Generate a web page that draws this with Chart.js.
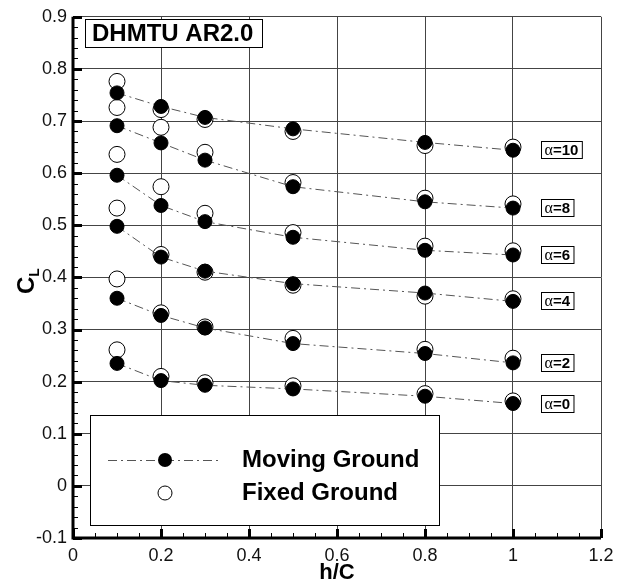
<!DOCTYPE html>
<html>
<head>
<meta charset="utf-8">
<script src="https://cdn.jsdelivr.net/npm/chart.js@4/dist/chart.umd.min.js"></script>
<style>
  body { margin: 0; background: #fff; }
  #wrap { width: 625px; height: 585px; position: relative; }
</style>
</head>
<body>
<div id="wrap"><canvas id="clChart"></canvas></div>
<script>
// h/C positions
const hC = [0.1, 0.2, 0.3, 0.5, 0.8, 1.0];

// moving ground CL, one array per angle of attack
const moving0  = [0.235, 0.202, 0.193, 0.186, 0.172, 0.158];
const moving2  = [0.360, 0.327, 0.303, 0.273, 0.254, 0.236];
const moving4  = [0.498, 0.439, 0.412, 0.388, 0.370, 0.354];
const moving6  = [0.596, 0.538, 0.507, 0.477, 0.452, 0.443];
const moving8  = [0.691, 0.658, 0.625, 0.574, 0.545, 0.533];
const moving10 = [0.754, 0.728, 0.707, 0.685, 0.659, 0.644];

// fixed ground CL
const fixed0  = [0.261, 0.210, 0.198, 0.192, 0.177, 0.163];
const fixed2  = [0.397, 0.332, 0.305, 0.283, 0.262, 0.245];
const fixed4  = [0.533, 0.444, 0.410, 0.385, 0.364, 0.359];
const fixed6  = [0.636, 0.574, 0.523, 0.486, 0.460, 0.451];
const fixed8  = [0.726, 0.688, 0.640, 0.582, 0.552, 0.541];
const fixed10 = [0.776, 0.722, 0.703, 0.680, 0.653, 0.650];

const alphaLabels = ['0', '2', '4', '6', '8', '10'];
const movingSets = [moving0, moving2, moving4, moving6, moving8, moving10];
const fixedSets = [fixed0, fixed2, fixed4, fixed6, fixed8, fixed10];

const FONT = '"Liberation Sans", Arial, sans-serif';
const DASH = [9, 4, 2, 4];

function toPoints(vals) {
    return vals.map((v, i) => ({ x: hC[i], y: v }));
}

const datasets = [];
// moving first so the filled dots sit on top of the open ones
movingSets.forEach((vals, i) => {
    datasets.push({
        label: 'Moving Ground a=' + alphaLabels[i],
        data: toPoints(vals),
        showLine: true,
        borderColor: '#555',
        borderWidth: 1,
        borderDash: DASH,
        pointBackgroundColor: '#000',
        pointBorderColor: '#000',
        pointBorderWidth: 1,
        pointRadius: 7
    });
});
fixedSets.forEach((vals, i) => {
    datasets.push({
        label: 'Fixed Ground a=' + alphaLabels[i],
        data: toPoints(vals),
        showLine: false,
        pointBackgroundColor: '#fff',
        pointBorderColor: '#000',
        pointBorderWidth: 1,
        pointRadius: 8
    });
});

function fmt(v) {
    const r = Math.round(v * 10) / 10;
    return r === 0 ? '0' : String(r);
}

// axes, inward ticks, title box, alpha tags, legend, axis titles
const decorPlugin = {
    id: 'decor',
    afterDraw(chart) {
        const c = chart.ctx;
        const a = chart.chartArea;
        const xs = chart.scales.x, ys = chart.scales.y;
        c.save();

        // thick left + bottom axes
        c.strokeStyle = '#000';
        c.lineWidth = 3;
        c.beginPath();
        c.moveTo(a.left, a.top);
        c.lineTo(a.left, a.bottom);
        c.lineTo(a.right, a.bottom);
        c.stroke();

        // y ticks inward
        for (let k = 0; k <= 50; k++) {
            const v = -0.1 + k * 0.02;
            const py = Math.round(ys.getPixelForValue(v)) + 0.5;
            const major = k % 5 === 0;
            c.lineWidth = major ? 3 : 1;
            c.beginPath();
            c.moveTo(a.left, py);
            c.lineTo(a.left + (major ? 9 : 5), py);
            c.stroke();
        }
        // x ticks inward
        for (let k = 0; k <= 24; k++) {
            const v = k * 0.05;
            const px = Math.round(xs.getPixelForValue(v)) + 0.5;
            const major = k % 4 === 0;
            c.lineWidth = major ? 3 : 1;
            c.beginPath();
            c.moveTo(px, a.bottom);
            c.lineTo(px, a.bottom - (major ? 9 : 5));
            c.stroke();
        }

        // title box
        c.lineWidth = 1;
        c.fillStyle = '#fff';
        c.fillRect(85.5, 19.5, 177, 28);
        c.strokeRect(85.5, 19.5, 177, 28);
        c.fillStyle = '#000';
        c.font = 'bold 24px ' + FONT;
        c.textBaseline = 'middle';
        c.textAlign = 'left';
        c.fillText('DHMTU AR2.0', 92, 34);

        // alpha tags next to last point of each curve
        movingSets.forEach((vals, i) => {
            const py = Math.round(ys.getPixelForValue(vals[vals.length - 1]));
            const left = Math.round(xs.getPixelForValue(1.064)) + 0.5;
            c.font = '16px "Liberation Serif", serif';
            const wA = c.measureText('\u03b1').width;
            c.font = 'bold 15px ' + FONT;
            const wN = c.measureText('=' + alphaLabels[i]).width;
            const w = wA + wN + 7;
            c.fillStyle = '#fff';
            c.fillRect(left, py - 8.5, w, 17);
            c.strokeStyle = '#000';
            c.lineWidth = 1;
            c.strokeRect(left, py - 8.5, w, 17);
            c.fillStyle = '#000';
            c.textBaseline = 'middle';
            c.font = '16px "Liberation Serif", serif';
            c.fillText('\u03b1', left + 3, py + 1);
            c.font = 'bold 15px ' + FONT;
            c.fillText('=' + alphaLabels[i], left + 3 + wA, py + 1);
        });

        // legend
        c.fillStyle = '#fff';
        c.fillRect(90.5, 415.5, 349, 110);
        c.strokeStyle = '#000';
        c.lineWidth = 1;
        c.strokeRect(90.5, 415.5, 349, 110);
        c.strokeStyle = '#555';
        c.setLineDash(DASH);
        c.beginPath();
        c.moveTo(108, 460.5);
        c.lineTo(222, 460.5);
        c.stroke();
        c.setLineDash([]);
        c.fillStyle = '#000';
        c.beginPath();
        c.arc(165, 460, 7, 0, Math.PI * 2);
        c.fill();
        c.strokeStyle = '#000';
        c.fillStyle = '#fff';
        c.beginPath();
        c.arc(165, 493, 7, 0, Math.PI * 2);
        c.fill();
        c.stroke();
        c.fillStyle = '#000';
        c.font = 'bold 24px ' + FONT;
        c.textBaseline = 'middle';
        c.fillText('Moving Ground', 242, 460);
        c.fillText('Fixed Ground', 242, 493);

        // x title
        c.font = 'bold 22px ' + FONT;
        c.textAlign = 'center';
        c.fillText('h/C', 337, 573);

        // y title C_L rotated
        c.translate(27, 284);
        c.rotate(-Math.PI / 2);
        c.textAlign = 'left';
        c.font = 'bold 24px ' + FONT;
        c.fillText('C', -10, 0);
        const wC = c.measureText('C').width;
        c.font = 'bold 14px ' + FONT;
        c.fillText('L', -10 + wC, 8);

        c.restore();
    }
};

new Chart(document.getElementById('clChart'), {
    type: 'scatter',
    data: { datasets },
    options: {
        responsive: true,
        maintainAspectRatio: false,
        animation: false,
        layout: { padding: { top: 14, right: 24, left: 0, bottom: 0 } },
        plugins: {
            legend: { display: false },
            tooltip: { enabled: false }
        },
        scales: {
            x: {
                type: 'linear',
                min: 0,
                max: 1.2,
                afterFit: s => { s.height = 47; },
                border: { display: false },
                grid: { color: '#444', lineWidth: 1, drawTicks: false },
                ticks: {
                    stepSize: 0.2,
                    padding: 7,
                    color: '#111',
                    font: { family: FONT, size: 18 },
                    callback: fmt
                }
            },
            y: {
                min: -0.1,
                max: 0.9,
                afterFit: s => { s.width = 73; },
                border: { display: false },
                grid: { color: '#444', lineWidth: 1, drawTicks: false },
                ticks: {
                    stepSize: 0.1,
                    padding: 6,
                    color: '#111',
                    font: { family: FONT, size: 18 },
                    callback: fmt
                }
            }
        }
    },
    plugins: [decorPlugin]
});
</script>
</body>
</html>
